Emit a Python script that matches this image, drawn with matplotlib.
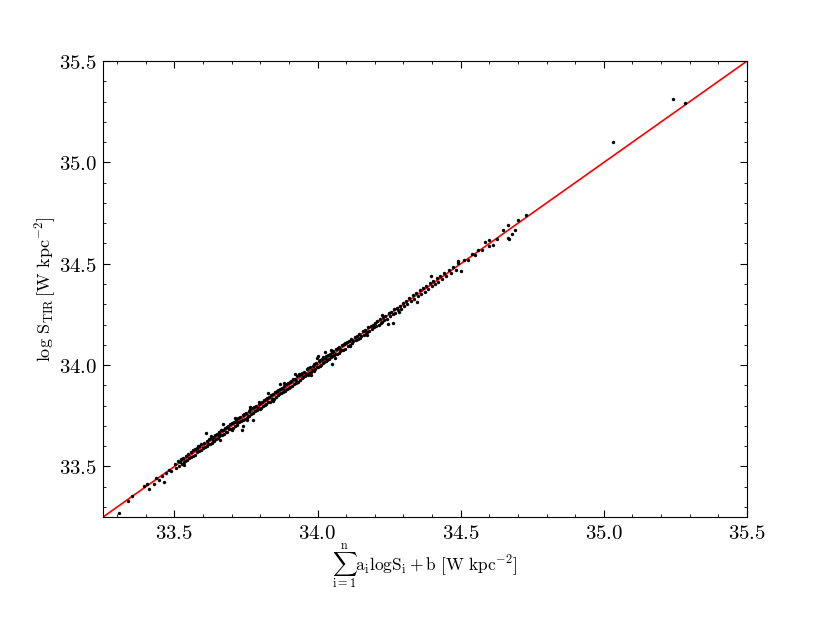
import numpy as np
import matplotlib
matplotlib.use('Agg')
import matplotlib.pyplot as plt
from matplotlib.ticker import MultipleLocator, FormatStrFormatter

# ---------- data ----------
x_pred = [
    33.306, 33.336, 33.351, 33.393, 33.405, 33.410, 33.428, 33.436, 33.445, 33.463, 33.458, 33.472, 33.480, 33.488,
    33.502, 33.506, 33.511, 33.515, 33.519, 33.523, 33.527, 33.531, 33.534, 33.538, 33.541, 33.545, 33.548, 33.552,
    33.556, 33.559, 33.563, 33.566, 33.570, 33.573, 33.577, 33.580, 33.584, 33.587, 33.591, 33.594, 33.598,
    33.601, 33.604, 33.607, 33.610, 33.612, 33.615, 33.618, 33.621, 33.624, 33.627, 33.630, 33.633, 33.636, 33.639,
    33.642, 33.645, 33.648, 33.651, 33.654, 33.657, 33.660, 33.663, 33.666, 33.668, 33.670, 33.673, 33.676, 33.679,
    33.682, 33.685, 33.688, 33.691, 33.694, 33.697, 33.700,
    33.702, 33.705, 33.708, 33.711, 33.714, 33.717, 33.720, 33.723, 33.726, 33.729, 33.732, 33.735, 33.738, 33.740,
    33.741, 33.744, 33.747, 33.750, 33.753, 33.756, 33.759, 33.762, 33.764, 33.765, 33.768, 33.771, 33.774, 33.776,
    33.779, 33.782, 33.785, 33.788, 33.791, 33.794, 33.797,
    33.800, 33.803, 33.806, 33.809, 33.812, 33.815, 33.818, 33.821, 33.824, 33.827, 33.828, 33.830, 33.833, 33.836,
    33.839, 33.842, 33.845, 33.848, 33.851, 33.854, 33.857, 33.860, 33.863, 33.866, 33.868, 33.869, 33.872, 33.875,
    33.878, 33.881, 33.884, 33.887, 33.890, 33.893, 33.896, 33.899,
    33.902, 33.905, 33.908, 33.911, 33.914, 33.917, 33.920, 33.920, 33.923, 33.926, 33.929, 33.932, 33.935, 33.938,
    33.941, 33.944, 33.947, 33.950, 33.953, 33.956, 33.959, 33.962, 33.965, 33.968, 33.971, 33.974, 33.977, 33.980,
    33.983, 33.986, 33.989, 33.992, 33.995, 33.997, 33.998,
    34.000, 34.001, 34.004, 34.007, 34.010, 34.013, 34.016, 34.019, 34.022, 34.025, 34.026, 34.028, 34.031, 34.034,
    34.037, 34.040, 34.043, 34.046, 34.047, 34.049, 34.049, 34.052, 34.055, 34.058, 34.061, 34.064, 34.067, 34.070,
    34.073, 34.076, 34.079, 34.082, 34.085, 34.088, 34.091, 34.094, 34.097,
    34.101, 34.105, 34.109, 34.113, 34.117, 34.121, 34.125, 34.129, 34.133, 34.137, 34.141, 34.145, 34.149, 34.153,
    34.157, 34.161, 34.165, 34.169, 34.173, 34.177, 34.181, 34.185, 34.189, 34.193, 34.197,
    34.201, 34.205, 34.209, 34.213, 34.217, 34.221, 34.225, 34.229, 34.233, 34.237, 34.241, 34.245, 34.249, 34.253,
    34.257, 34.262, 34.262, 34.267, 34.272, 34.277, 34.282, 34.287, 34.292, 34.297,
    34.302, 34.308, 34.314, 34.320, 34.326, 34.332, 34.338, 34.346, 34.344, 34.350, 34.356, 34.362, 34.368, 34.374,
    34.380, 34.386, 34.392, 34.395, 34.398, 34.404, 34.410, 34.416, 34.422, 34.428, 34.434, 34.442, 34.450, 34.458,
    34.466, 34.474, 34.482, 34.490, 34.492, 34.500,
    34.512, 34.525, 34.538, 34.550, 34.562, 34.575, 34.585, 34.600, 34.600, 34.614, 34.628, 34.649, 34.664, 34.666,
    34.670, 34.680, 34.690, 34.700, 34.727,
    35.031, 35.243, 35.284,
    # extra scattered points around the dense core
    33.532, 33.581, 33.626, 33.658, 33.712, 33.752, 33.796, 33.845, 33.884, 33.934, 33.976, 34.018, 34.060, 34.114,
    34.172, 34.226, 34.284,
]
y_tir = [
    33.270, 33.331, 33.354, 33.405, 33.412, 33.387, 33.414, 33.441, 33.433, 33.423, 33.452, 33.468, 33.481, 33.476,
    33.514, 33.492, 33.526, 33.503, 33.521, 33.535, 33.510, 33.544, 33.522, 33.529, 33.553, 33.531, 33.560, 33.541,
    33.569, 33.545, 33.552, 33.581, 33.558, 33.586, 33.570, 33.592, 33.575, 33.601, 33.583, 33.610, 33.589,
    33.592, 33.618, 33.598, 33.665, 33.624, 33.603, 33.611, 33.634, 33.612, 33.640, 33.618, 33.646, 33.629, 33.623,
    33.657, 33.634, 33.661, 33.642, 33.669, 33.648, 33.655, 33.678, 33.654, 33.710, 33.681, 33.662, 33.690, 33.668,
    33.696, 33.672, 33.701, 33.683, 33.708, 33.685, 33.680,
    33.716, 33.690, 33.721, 33.698, 33.730, 33.705, 33.712, 33.737, 33.718, 33.744, 33.726, 33.680, 33.752, 33.700,
    33.728, 33.760, 33.735, 33.766, 33.741, 33.750, 33.773, 33.748, 33.795, 33.782, 33.758, 33.786, 33.730, 33.764,
    33.792, 33.772, 33.799, 33.778, 33.786, 33.808, 33.782,
    33.815, 33.790, 33.820, 33.798, 33.827, 33.803, 33.832, 33.809, 33.838, 33.816, 33.860, 33.844, 33.820, 33.850,
    33.827, 33.835, 33.858, 33.832, 33.866, 33.842, 33.873, 33.850, 33.878, 33.858, 33.907, 33.883, 33.862, 33.889,
    33.868, 33.876, 33.897, 33.873, 33.905, 33.880, 33.910, 33.888,
    33.916, 33.893, 33.922, 33.898, 33.929, 33.905, 33.955, 33.933, 33.910, 33.920, 33.944, 33.918, 33.950, 33.926,
    33.958, 33.935, 33.962, 33.941, 33.968, 33.948, 33.955, 33.979, 33.952, 33.984, 33.960, 33.990, 33.966, 33.975,
    33.997, 33.972, 34.003, 33.981, 34.008, 34.036, 33.990,
    34.045, 33.990, 34.018, 33.996, 34.024, 34.001, 34.030, 34.008, 34.014, 34.036, 34.066, 34.020, 34.043, 34.025,
    34.050, 34.032, 34.056, 34.038, 34.074, 34.005, 34.063, 34.044, 34.068, 34.050, 34.056, 34.077, 34.055, 34.083,
    34.062, 34.088, 34.067, 34.075, 34.097, 34.073, 34.104, 34.080, 34.107,
    34.112, 34.094, 34.121, 34.100, 34.130, 34.109, 34.117, 34.140, 34.122, 34.145, 34.130, 34.152, 34.136, 34.143,
    34.166, 34.148, 34.172, 34.156, 34.163, 34.186, 34.170, 34.191, 34.178, 34.200, 34.186,
    34.210, 34.195, 34.218, 34.198, 34.225, 34.206, 34.213, 34.238, 34.221, 34.244, 34.228, 34.201, 34.256, 34.240,
    34.262, 34.206, 34.250, 34.276, 34.258, 34.281, 34.270, 34.293, 34.279, 34.305,
    34.293, 34.318, 34.302, 34.330, 34.316, 34.344, 34.327, 34.313, 34.355, 34.340, 34.368, 34.350, 34.380, 34.362,
    34.391, 34.375, 34.404, 34.439, 34.388, 34.415, 34.398, 34.428, 34.410, 34.440, 34.424, 34.455, 34.438, 34.470,
    34.452, 34.486, 34.470, 34.515, 34.503, 34.466,
    34.518, 34.519, 34.546, 34.543, 34.570, 34.568, 34.609, 34.617, 34.587, 34.592, 34.622, 34.666, 34.690, 34.625,
    34.622, 34.647, 34.666, 34.716, 34.740,
    35.102, 35.311, 35.294,
    33.507, 33.602, 33.650, 33.632, 33.738, 33.728, 33.820, 33.822, 33.910, 33.956, 33.952, 34.040, 34.036, 34.092,
    34.150, 34.248, 34.262,
]

# one-to-one reference line
line_ends = [33.25, 35.5]
x_lim = (33.25, 35.5)
y_lim = (33.25, 35.5)

plt.rcParams['mathtext.fontset'] = 'cm'
plt.rcParams['font.family'] = 'DejaVu Sans'

fig = plt.figure(figsize=(8.3, 6.23), dpi=100, facecolor='white')
ax = fig.add_axes([0.124, 0.170, 0.776, 0.732])

ax.plot(line_ends, line_ends, color='red', lw=1.2, zorder=1)
ax.scatter(x_pred, y_tir, s=6, c='black', linewidths=0, zorder=2)

ax.set_xlim(*x_lim)
ax.set_ylim(*y_lim)
ax.xaxis.set_major_locator(MultipleLocator(0.5))
ax.yaxis.set_major_locator(MultipleLocator(0.5))
ax.xaxis.set_minor_locator(MultipleLocator(0.1))
ax.yaxis.set_minor_locator(MultipleLocator(0.1))
ax.tick_params(which='both', direction='in', top=True, right=True, labelsize=15)
ax.tick_params(which='major', length=5, pad=4)
ax.tick_params(which='minor', length=2.5)
ax.xaxis.set_major_formatter(FormatStrFormatter(r'$%.1f$'))
ax.yaxis.set_major_formatter(FormatStrFormatter(r'$%.1f$'))

ax.set_xlabel(r'$\sum_{\rm i=1}^{\rm n}\mathrm{a_i logS_i+b\ [W\ kpc^{-2}]}$', fontsize=12.5)
ax.set_ylabel(r'$\log\,\mathrm{S_{TIR}}\,\mathrm{[W\ kpc^{-2}]}$', fontsize=13)
ax.xaxis.set_label_coords(0.5, -0.055)
ax.yaxis.set_label_coords(-0.07, 0.5)

fig.savefig('out.png', dpi=100, facecolor='white')
